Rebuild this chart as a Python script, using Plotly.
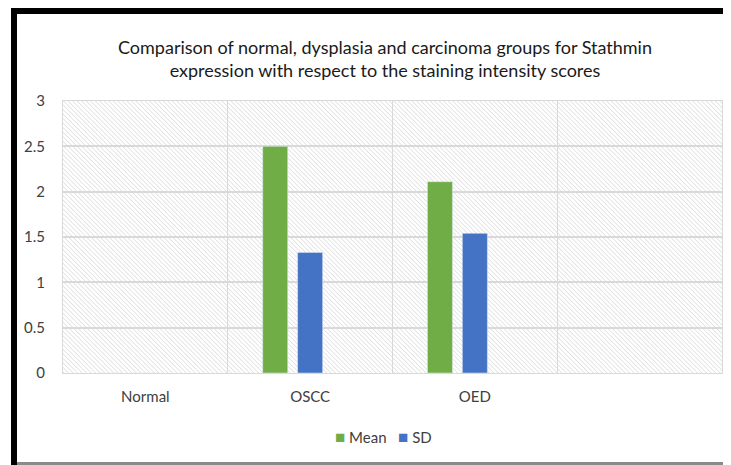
import base64
import plotly.graph_objects as go

categories = ["Normal", "OSCC", "OED"]
mean_values = [0, 2.5, 2.11]
sd_values = [0, 1.33, 1.54]
series_names = ["Mean", "SD"]
series_colors = ["#70AD47", "#4472C4"]
y_ticks = [0, 0.5, 1, 1.5, 2, 2.5, 3]
y_tick_labels = ["0", "0.5", "1", "1.5", "2", "2.5", "3"]

OFF = 8  # page body margin
W, H = 731 - OFF, 465 - OFF
# plot area in screen pixels: x 63..722, y 101..373
ML, MT = 63 - OFF, 101 - OFF
MR = W - (722 - OFF)
MB = H - (373 - OFF)
PW, PH = W - ML - MR, H - MT - MB

FONT = "Lato, Liberation Sans, sans-serif"

svg = f'''<svg xmlns="http://www.w3.org/2000/svg" width="{PW}" height="{PH}">
<defs><pattern id="h" width="3.2" height="3.2" patternUnits="userSpaceOnUse" patternTransform="rotate(-45)">
<rect width="3.2" height="3.2" fill="#ffffff"/><line x1="0" y1="0" x2="0" y2="3.2" stroke="#d6d6d6" stroke-width="1.2"/></pattern></defs>
<rect width="{PW}" height="{PH}" fill="url(#h)"/></svg>'''
uri = "data:image/svg+xml;base64," + base64.b64encode(svg.encode()).decode()

fig = go.Figure()
fig.add_trace(go.Bar(name=series_names[0], x=categories, y=mean_values, marker_color=series_colors[0],
                     offset=-0.288, width=0.152, showlegend=False))
fig.add_trace(go.Bar(name=series_names[1], x=categories, y=sd_values, marker_color=series_colors[1],
                     offset=-0.076, width=0.152, showlegend=False))


def px_x(p):
    return (p - OFF - ML) / PW


def px_y(p):
    return 1 - (p - OFF - MT) / PH


shapes = [
    dict(type="line", xref="paper", yref="paper", x0=px_x(11), x1=px_x(740), y0=px_y(11), y1=px_y(11),
         line=dict(color="#000000", width=6)),
    dict(type="line", xref="paper", yref="paper", x0=px_x(14), x1=px_x(14), y0=px_y(8), y1=px_y(470),
         line=dict(color="#000000", width=6)),
    dict(type="line", xref="paper", yref="paper", x0=px_x(17), x1=px_x(740), y0=px_y(463.5), y1=px_y(463.5),
         line=dict(color="#8a8a8a", width=3)),
]

legend_text = "&nbsp;&nbsp;&nbsp;".join(
    f"<span style='color:{c};font-size:17px'>■</span> {n}" for n, c in zip(series_names, series_colors)
)

fig.update_layout(
    width=W, height=H,
    margin=dict(l=ML, r=MR, t=MT, b=MB),
    paper_bgcolor="#ffffff",
    plot_bgcolor="rgba(0,0,0,0)",
    barmode="overlay",
    showlegend=False,
    font=dict(family=FONT, color="#595959", size=14),
    title=dict(
        text="Comparison of normal, dysplasia and carcinoma groups for Stathmin<br>expression with respect to the staining intensity scores",
        x=(385 - OFF) / W, xanchor="center", y=1 - (54 - OFF) / H, yanchor="middle",
        font=dict(family=FONT, size=18, color="#1a1a1a"),
    ),
    images=[dict(source=uri, xref="paper", yref="paper", x=0, y=1, sizex=1, sizey=1,
                 xanchor="left", yanchor="top", sizing="stretch", layer="below")],
    shapes=shapes,
    annotations=[dict(text=legend_text, xref="paper", yref="paper", x=px_x(383), y=px_y(436),
                      xanchor="center", yanchor="middle", showarrow=False,
                      font=dict(family=FONT, size=15, color="#404040"))],
    xaxis=dict(type="category", categoryorder="array", categoryarray=categories,
               range=[-0.5, 3.5], tickson="boundaries", showgrid=True, gridcolor="#d9d9d9",
               gridwidth=1, ticks="", showline=True, linecolor="#d9d9d9", mirror=True,
               tickfont=dict(family=FONT, size=15, color="#404040"), ticklabelstandoff=10),
    yaxis=dict(range=[0, 3], tickvals=y_ticks, ticktext=y_tick_labels, showgrid=True,
               gridcolor="#d9d9d9", gridwidth=1.5, zeroline=False, showline=True, linecolor="#d9d9d9",
               mirror=True, ticks="", ticklabelstandoff=14,
               tickfont=dict(family=FONT, size=15, color="#404040")),
)

fig.write_html("out.html")
